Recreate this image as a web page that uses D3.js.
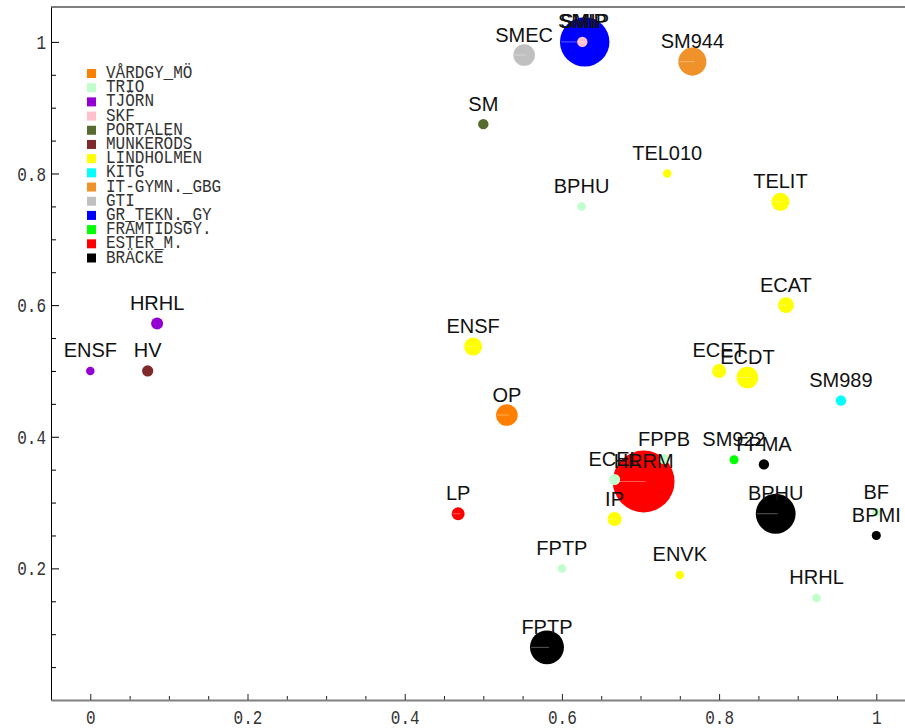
<!DOCTYPE html>
<html>
<head>
<meta charset="utf-8">
<script src="https://cdn.jsdelivr.net/npm/d3@7"></script>
<style>
  html, body { margin: 0; padding: 0; background: #fff; }
  svg { display: block; }
</style>
</head>
<body>
<svg id="chart" width="905" height="728"></svg>
<script>
// ---- data ----
const groups = ["VÅRDGY_MÖ","TRIO","TJÖRN","SKF","PORTALEN","MUNKERÖDS","LINDHOLMEN","KITG","IT-GYMN._GBG","GTI","GR_TEKN._GY","FRAMTIDSGY.","ESTER_M.","BRÄCKE"];
const groupColors = ["#ff8000","#c0ffcc","#9400d3","#ffc0cb","#556b2f","#7f2a2a","#ffff00","#00ffff","#f0922a","#c0c0c0","#0000ff","#00ff00","#ff0000","#000000"];

const pointLabels = ["ENSF","HRHL","HV","SM","SMEC","SMIP","SMIP","SM944","BPHU","TEL010","TELIT","ECAT","ENSF","OP","ECET","ECDT","SM989","SM922","FPMA","ECEL","FPPB","HRRM","IP","BPHU","BF","BPMI","HRHL","ENVK","FPTP","FPTP","LP"];
const pointGroups = ["TJÖRN","TJÖRN","MUNKERÖDS","PORTALEN","GTI","GR_TEKN._GY","SKF","IT-GYMN._GBG","TRIO","LINDHOLMEN","LINDHOLMEN","LINDHOLMEN","LINDHOLMEN","VÅRDGY_MÖ","LINDHOLMEN","LINDHOLMEN","KITG","FRAMTIDSGY.","BRÄCKE","TRIO","TRIO","ESTER_M.","LINDHOLMEN","BRÄCKE","TRIO","BRÄCKE","TRIO","LINDHOLMEN","TRIO","BRÄCKE","ESTER_M."];
const pointX = [0.0,0.085,0.073,0.5,0.552,0.629,0.626,0.766,0.625,0.734,0.878,0.885,0.487,0.53,0.8,0.836,0.955,0.819,0.857,0.667,0.73,0.704,0.667,0.872,1.0,1.0,0.924,0.75,0.6,0.581,0.468];
const pointY = [0.5,0.572,0.5,0.875,0.98,1.0,1.0,0.97,0.75,0.8,0.757,0.6,0.537,0.433,0.5,0.49,0.455,0.365,0.358,0.335,0.366,0.332,0.275,0.283,0.285,0.25,0.155,0.19,0.2,0.08,0.283];
const pointSize = [2,4,3.5,3,13,68,3,22,2,2,9,7,9,13,5.5,13,3,2.3,3,3.4,3,106,5.5,44,2,2.3,2,2,2,32,4.7];

const yTickLabels = [0.2,0.4,0.6,0.8,1];
const xTickLabels = [0,0.2,0.4,0.6,0.8,1];

// ---- layout ----
const svg = d3.select("#chart");
const x = d3.scaleLinear().domain([-0.05, 1.0365]).range([51, 905]);
const y = d3.scaleLinear().domain([0, 1.053]).range([700, 7]);
const r = d3.scaleSqrt().domain([0, 100]).range([0, 30]);
const color = d3.scaleOrdinal().domain(groups).range(groupColors);

const tickFont = "'Liberation Mono', 'DejaVu Sans Mono', monospace";

// top frame line
svg.append("line")
  .attr("x1", x(-0.05)).attr("x2", 905)
  .attr("y1", y(1.053)).attr("y2", y(1.053))
  .attr("stroke", "#000").attr("stroke-width", 1);

// Y axis minor
const yMinor = d3.range(1, 21).map(i => i * 0.05).filter(v => Math.abs(v*5 - Math.round(v*5)) > 1e-6);
svg.append("g").attr("transform", `translate(${x(-0.05)},0)`)
  .call(d3.axisLeft(y).tickValues(yMinor).tickSizeInner(-5).tickSizeOuter(0).tickFormat(""))
  .call(g => g.select(".domain").remove())
  .call(g => g.selectAll("line").attr("stroke", "#000"));
// Y axis major
const gy = svg.append("g").attr("transform", `translate(${x(-0.05)},0)`)
  .call(d3.axisLeft(y).tickValues(yTickLabels).tickSizeInner(-8).tickSizeOuter(0).tickPadding(5).tickFormat(d3.format("~g")));
gy.select(".domain").attr("stroke", "#000").attr("stroke-width", 1);
gy.selectAll("line").attr("stroke", "#000");
gy.selectAll("text")
  .attr("font-family", tickFont).attr("font-size", 16).attr("fill", "#333")
  .attr("transform", "scale(1,1.28)");

// X axis minor
const xMinor = d3.range(0, 21).map(i => i * 0.05).filter(v => Math.abs(v*5 - Math.round(v*5)) > 1e-6);
svg.append("g").attr("transform", `translate(0,${y(0)})`)
  .call(d3.axisBottom(x).tickValues(xMinor).tickSizeInner(-4).tickSizeOuter(0).tickFormat(""))
  .call(g => g.select(".domain").remove())
  .call(g => g.selectAll("line").attr("stroke", "#222"));
const gx = svg.append("g").attr("transform", `translate(0,${y(0)})`)
  .call(d3.axisBottom(x).tickValues(xTickLabels).tickSizeInner(-6).tickSizeOuter(0).tickFormat(d3.format("~g")));
gx.select(".domain").attr("stroke", "#808080").attr("stroke-width", 2);
gx.selectAll("line").attr("stroke", "#222");
gx.selectAll("text")
  .attr("font-family", tickFont).attr("font-size", 16).attr("fill", "#333")
  .attr("y", 18.4).attr("dy", 0)
  .attr("transform", "scale(1,1.28)");

// ---- points ----
const pts = pointLabels.map((lab, i) => ({
  label: lab, group: pointGroups[i], x: pointX[i], y: pointY[i], v: pointSize[i],
  order: groups.indexOf(pointGroups[i])
}));
// draw in reverse legend order (last legend group first)
const drawOrder = pts.slice().sort((a, b) => b.order - a.order);

const gp = svg.append("g");
gp.selectAll("circle").data(drawOrder).join("circle")
  .attr("cx", d => x(d.x)).attr("cy", d => y(d.y)).attr("r", d => r(d.v))
  .attr("fill", d => color(d.group));
// faint highlight stroke inside each blob
gp.selectAll("line.hl").data(drawOrder.filter(d => r(d.v) > 6)).join("line")
  .attr("class", "hl")
  .attr("x1", d => x(d.x) - r(d.v) + 1).attr("x2", d => x(d.x) + 2)
  .attr("y1", d => y(d.y)).attr("y2", d => y(d.y))
  .attr("stroke", "#fff").attr("stroke-opacity", 0.35).attr("stroke-width", 1);

// labels
svg.append("g").selectAll("text").data(drawOrder).join("text")
  .attr("x", d => x(d.x)).attr("y", d => y(d.y) - 13.5)
  .attr("text-anchor", "middle")
  .attr("font-family", "'Liberation Sans', Arial, sans-serif")
  .attr("font-size", 20).attr("fill", "#111")
  .text(d => d.label);

// ---- legend ----
const lg = svg.append("g");
const rowY = d3.scaleLinear().domain([0, groups.length - 1]).range([73.5, 258]);
lg.selectAll("rect").data(groups).join("rect")
  .attr("x", 87).attr("y", (d, i) => rowY(i) - 4.5)
  .attr("width", 9).attr("height", 9)
  .attr("fill", d => color(d));
lg.selectAll("text").data(groups).join("text")
  .attr("transform", (d, i) => `translate(106,${rowY(i) + 4.5}) scale(1,1.15)`)
  .attr("font-family", tickFont).attr("font-size", 16).attr("fill", "#333")
  .text(d => d);
</script>
</body>
</html>
